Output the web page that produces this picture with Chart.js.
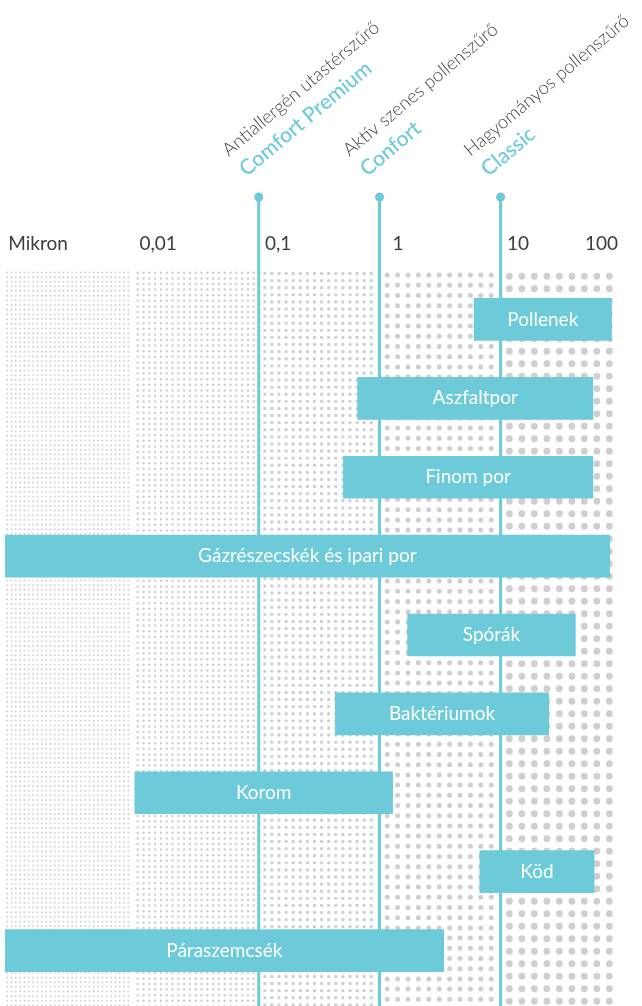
<!DOCTYPE html>
<html lang="hu">
<head>
<meta charset="utf-8">
<title>Részecskeméretek és pollenszűrők</title>
<script src="https://cdn.jsdelivr.net/npm/chart.js@4.4.1/dist/chart.umd.min.js"></script>
<style>
    html, body { margin: 0; padding: 0; background: #fff; }
    #wrap { position: relative; width: 642px; height: 1006px; }
</style>
</head>
<body>
<div id="wrap"><canvas id="particleChart"></canvas></div>
<script>
// Particle sizes (micron) against cabin filter types

const particles = ['Pollenek', 'Aszfaltpor', 'Finom por', 'Gázrészecskék és ipari por', 'Spórák', 'Baktériumok', 'Korom', 'Köd', 'Páraszemcsék'];
const sizeFrom = [4.3, 0.46, 0.35, 0.00053, 1.2, 0.3, 0.0064, 4.8, 0.00053];
const sizeTo = [60, 42, 42, 58, 30, 18, 0.9, 43, 2.4];

const tickValues = [0.001, 0.01, 0.1, 1, 10, 100];
const tickLabels = ['Mikron', '0,01', '0,1', '1', '10', '100'];

// dotted size bands behind the bars
const bandEdges = [0.00053, 0.0061, 0.069, 0.7, 7.15, 68];

// filter cut-off sizes
const filterSizes = [0.069, 0.7, 7.15];
const filterTypes = ['Antiallergén utastérszűrő', 'Aktív szenes pollenszűrő', 'Hagyományos pollenszűrő'];
const filterNames = ['Comfort Premium', 'Confort', 'Classic'];

const cyan = '#6ccad9';
const dotGray = '#cfcfd2';
const textGray = '#3d3d3d';

// dot grid per band, small to big
const dotStyles = [
    { sx: 4.33, sy: 4.67, r: 0.95 },
    { sx: 5.8, sy: 5.6, r: 1.25 },
    { sx: 7.1, sy: 7.1, r: 1.7 },
    { sx: 10.4, sy: 10.2, r: 2.5 },
    { sx: 12.5, sy: 12.5, r: 3.4 }
];

// Dotted columns + filter lines (under the bars)
const bandsPlugin = {
    id: 'bands',
    beforeDatasetsDraw(chart) {
        const { ctx, chartArea, scales: { x } } = chart;
        const top = chartArea.top - 10;
        const bottom = chart.height;
        const last = bandEdges.length - 2;
        ctx.save();
        ctx.fillStyle = dotGray;
        for (let b = 0; b <= last; b++) {
            const left = x.getPixelForValue(bandEdges[b]) + (b > 0 ? 2.5 : 0);
            const right = x.getPixelForValue(bandEdges[b + 1]) - (b < last ? 2.5 : 0);
            const s = dotStyles[b];
            ctx.save();
            ctx.beginPath();
            ctx.rect(left, top, right - left, bottom - top);
            ctx.clip();
            ctx.beginPath();
            for (let yy = top + s.sy / 2; yy < bottom + s.r; yy += s.sy) {
                for (let xx = left + s.sx / 2; xx < right + s.r; xx += s.sx) {
                    ctx.moveTo(xx + s.r, yy);
                    ctx.arc(xx, yy, s.r, 0, Math.PI * 2);
                }
            }
            ctx.fill();
            ctx.restore();
        }

        ctx.strokeStyle = cyan;
        ctx.fillStyle = cyan;
        ctx.lineWidth = 3;
        filterSizes.forEach(v => {
            const px = x.getPixelForValue(v);
            ctx.beginPath();
            ctx.moveTo(px, 197);
            ctx.lineTo(px, bottom);
            ctx.stroke();
            ctx.beginPath();
            ctx.arc(px, 197, 4.5, 0, Math.PI * 2);
            ctx.fill();
        });
        ctx.restore();
    }
};

// Names inside the bars
const barLabelsPlugin = {
    id: 'barLabels',
    afterDatasetsDraw(chart) {
        const { ctx } = chart;
        const meta = chart.getDatasetMeta(0);
        ctx.save();
        ctx.fillStyle = '#fff';
        ctx.font = '19px Lato';
        ctx.textAlign = 'center';
        ctx.textBaseline = 'middle';
        meta.data.forEach((bar, i) => {
            ctx.fillText(particles[i], (bar.x + bar.base) / 2, bar.y);
        });
        ctx.restore();
    }
};

// Rotated filter names above the lines
const headerPlugin = {
    id: 'header',
    beforeDraw(chart) {
        // keep the last tick label ("100") inside the plot
        const items = chart.scales.x.getLabelItems();
        const lastItem = items[items.length - 1];
        if (lastItem) lastItem.options.textAlign = 'right';
    },
    afterDraw(chart) {
        const { ctx, scales: { x } } = chart;
        const angle = -40 * Math.PI / 180;
        function rotated(text, px, py, font, color) {
            ctx.save();
            ctx.translate(px, py);
            ctx.rotate(angle);
            ctx.font = font;
            ctx.fillStyle = color;
            ctx.textAlign = 'left';
            ctx.textBaseline = 'alphabetic';
            ctx.fillText(text, 0, 0);
            ctx.restore();
        }
        filterSizes.forEach((v, i) => {
            const px = x.getPixelForValue(v);
            rotated(filterTypes[i], px - 30, 157, '300 18.5px Lato', '#444');
            rotated(filterNames[i], px - 12, 177, '500 21px Lato', cyan);
        });
    }
};

function initParticleChart() {
    const canvas = document.getElementById('particleChart');
    if (!canvas) return null;

    return new Chart(canvas.getContext('2d'), {
        type: 'bar',
        data: {
            labels: particles,
            datasets: [{
                data: particles.map((_, i) => [sizeFrom[i], sizeTo[i]]),
                backgroundColor: cyan,
                borderWidth: 0,
                borderSkipped: false,
                barThickness: 42
            }]
        },
        plugins: [bandsPlugin, barLabelsPlugin, headerPlugin],
        options: {
            indexAxis: 'y',
            responsive: true,
            maintainAspectRatio: false,
            animation: false,
            layout: {
                padding: { top: 232, right: 24, bottom: 16, left: 5 }
            },
            plugins: {
                legend: { display: false },
                tooltip: { enabled: false }
            },
            scales: {
                x: {
                    type: 'logarithmic',
                    position: 'top',
                    min: bandEdges[0],
                    max: bandEdges[bandEdges.length - 1],
                    grid: { display: false, drawTicks: false },
                    border: { display: false },
                    afterBuildTicks: (axis) => {
                        axis.ticks = tickValues.map(v => ({ value: Math.min(v, axis.max) }));
                    },
                    afterFit: (axis) => {
                        // labels sit 25px above the plot; no extra side padding
                        axis.height = 48;
                        axis.paddingLeft = 0;
                        axis.paddingRight = 0;
                    },
                    ticks: {
                        autoSkip: false,
                        maxRotation: 0,
                        padding: 25,
                        color: textGray,
                        font: { family: 'Lato', size: 19 },
                        callback: (value, index) => tickLabels[index]
                    }
                },
                y: {
                    display: false,
                    grid: { display: false }
                }
            }
        }
    });
}

document.addEventListener('DOMContentLoaded', () => {
    initParticleChart();
});
</script>
</body>
</html>
